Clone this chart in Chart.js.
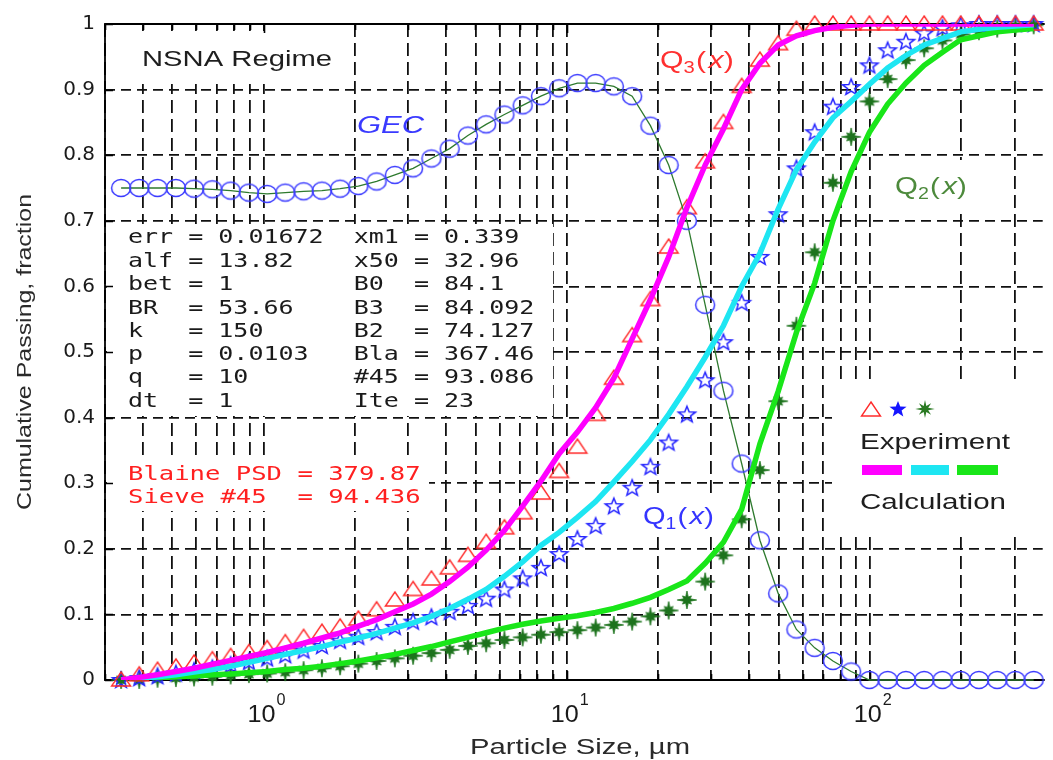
<!DOCTYPE html>
<html>
<head>
<meta charset="utf-8">
<script src="https://cdn.jsdelivr.net/npm/chart.js@4.4.1/dist/chart.umd.min.js"></script>
<style>
html,body{margin:0;padding:0;background:#fff;}
#wrap{width:1053px;height:760px;position:relative;overflow:hidden;}
</style>
</head>
<body>
<div id="wrap"><canvas id="c" width="1053" height="760"></canvas></div>
<script>
// ---------------- data ----------------
const particleSize = [0.339,0.389,0.447,0.514,0.590,0.678,0.779,0.895,1.028,1.180,
  1.356,1.558,1.789,2.055,2.361,2.712,3.115,3.579,4.111,4.722,
  5.424,6.231,7.157,8.221,9.444,10.85,12.46,14.31,16.44,18.89,
  21.70,24.92,28.63,32.89,37.77,43.39,49.85,57.26,65.77,75.55,
  86.78,99.69,114.5,131.5,151.1,173.6,199.4,229.0,263.1,302.2,347.1];

const gecValues = [0.750,0.750,0.750,0.750,0.749,0.748,0.746,0.743,0.741,0.743,
  0.745,0.746,0.749,0.753,0.760,0.770,0.780,0.795,0.810,0.830,
  0.847,0.862,0.876,0.890,0.902,0.910,0.910,0.905,0.890,0.845,
  0.785,0.700,0.572,0.441,0.330,0.213,0.132,0.077,0.049,0.029,
  0.013,0,0,0,0,0,0,0,0,0,0];

const q3Calc = [0.000,0.004,0.008,0.013,0.018,0.024,0.030,0.036,0.042,0.049,
  0.056,0.064,0.072,0.082,0.092,0.104,0.116,0.131,0.150,0.172,
  0.198,0.228,0.265,0.303,0.345,0.378,0.415,0.460,0.520,0.580,
  0.645,0.720,0.785,0.840,0.900,0.940,0.968,0.982,0.990,0.995,
  0.998,1,1,1,1,1,1,1,1,1,1];

const q3Exp = [0.000,0.008,0.015,0.020,0.026,0.031,0.036,0.042,0.048,0.057,
  0.065,0.073,0.081,0.093,0.107,0.122,0.138,0.154,0.171,0.190,
  0.210,0.232,0.255,0.285,0.318,0.355,0.405,0.460,0.525,0.580,
  0.660,0.720,0.790,0.850,0.905,0.945,0.970,0.992,1,1,
  1,1,1,1,1,1,1,1,1,1,1];

const q1Calc = [0,0.002,0.005,0.008,0.012,0.016,0.021,0.027,0.033,0.039,
  0.045,0.051,0.058,0.064,0.071,0.079,0.087,0.097,0.109,0.123,
  0.138,0.158,0.180,0.205,0.225,0.248,0.272,0.302,0.333,0.366,
  0.405,0.447,0.492,0.540,0.600,0.650,0.718,0.778,0.820,0.857,
  0.882,0.908,0.933,0.952,0.968,0.978,0.988,0.992,0.995,0.997,0.999];

const q1Exp = [0,0.003,0.006,0.010,0.014,0.018,0.023,0.028,0.033,0.038,
  0.045,0.052,0.060,0.066,0.073,0.081,0.089,0.096,0.104,0.113,
  0.124,0.138,0.155,0.171,0.192,0.215,0.235,0.265,0.293,0.325,
  0.362,0.405,0.457,0.515,0.575,0.645,0.710,0.780,0.835,0.874,
  0.904,0.937,0.960,0.973,0.986,0.994,0.998,1,1,1,1];

const q2Calc = [0,0.002,0.003,0.005,0.006,0.008,0.009,0.011,0.013,0.016,
  0.018,0.021,0.025,0.029,0.034,0.039,0.045,0.051,0.058,0.065,
  0.072,0.079,0.085,0.090,0.094,0.098,0.103,0.109,0.117,0.126,
  0.138,0.151,0.178,0.210,0.260,0.360,0.440,0.530,0.605,0.700,
  0.775,0.835,0.878,0.910,0.937,0.957,0.976,0.982,0.988,0.991,0.993];

const q2Exp = [0,0,0.002,0.003,0.004,0.005,0.007,0.009,0.010,0.012,
  0.015,0.018,0.021,0.025,0.029,0.033,0.037,0.041,0.046,0.052,
  0.056,0.061,0.065,0.069,0.073,0.076,0.080,0.084,0.089,0.097,
  0.106,0.122,0.150,0.190,0.245,0.320,0.425,0.540,0.652,0.758,
  0.828,0.882,0.916,0.945,0.963,0.975,0.984,0.989,0.993,0.996,0.998];

const xDecadeExponents = [0, 1, 2];
const yTickStep = 0.1;

const paramRows = [
  "err = 0.01672  xm1 = 0.339",
  "alf = 13.82    x50 = 32.96",
  "bet = 1        B0  = 84.1",
  "BR  = 53.66    B3  = 84.092",
  "k   = 150      B2  = 74.127",
  "p   = 0.0103   Bla = 367.46",
  "q   = 10       #45 = 93.086",
  "dt  = 1        Ite = 23"
];
const sieveRows = [
  "Blaine PSD = 379.87",
  "Sieve #45  = 94.436"
];
const regimeLabel = "NSNA Regime";
const xTitle = "Particle Size, \u00b5m";
const yTitle = "Cumulative Passing, fraction";

// ---------------- marker images ----------------
function mkCanvas(w,h,fn){const c=document.createElement('canvas');c.width=w;c.height=h;const g=c.getContext('2d');fn(g,w/2,h/2);return c;}
function starPath(g,cx,cy,rx,ry,ir){g.beginPath();for(let k=0;k<10;k++){const a=-Math.PI/2+k*Math.PI/5;const r=(k%2)?ir:1;const px=cx+Math.cos(a)*rx*r, py=cy+Math.sin(a)*ry*r;if(k===0)g.moveTo(px,py);else g.lineTo(px,py);}g.closePath();}
function burstPath(g,cx,cy,longR,shortR,inR){g.beginPath();for(let k=0;k<16;k++){const a=-Math.PI/2+k*Math.PI/8;let r;if(k%2)r=inR;else r=(k%4===0)?longR:shortR;const px=cx+Math.cos(a)*r*1.08, py=cy+Math.sin(a)*r;if(k===0)g.moveTo(px,py);else g.lineTo(px,py);}g.closePath();}
const circleImg = mkCanvas(24,22,(g,cx,cy)=>{g.strokeStyle='#3b3bff';g.lineWidth=1.5;g.beginPath();g.ellipse(cx,cy,9.5,8.5,0,0,Math.PI*2);g.stroke();});
const triImg = mkCanvas(24,22,(g,cx,cy)=>{g.strokeStyle='#ff2b2b';g.lineWidth=1.4;g.beginPath();g.moveTo(cx,cy-8);g.lineTo(cx+9.5,cy+6);g.lineTo(cx-9.5,cy+6);g.closePath();g.stroke();});
const starImg = mkCanvas(24,22,(g,cx,cy)=>{starPath(g,cx,cy+0.5,9,8.5,0.42);g.strokeStyle='#2323ff';g.lineWidth=1.5;g.stroke();});
const starFillImg = mkCanvas(24,22,(g,cx,cy)=>{starPath(g,cx,cy+0.5,9,8.5,0.42);g.fillStyle='#1515ff';g.fill();});
const plusImg = mkCanvas(24,22,(g,cx,cy)=>{burstPath(g,cx,cy,9,5.8,3.2);g.fillStyle='#1d731d';g.fill();g.strokeStyle='#1d731d';g.lineWidth=0.8;g.stroke();});
const burstLegendImg = mkCanvas(24,22,(g,cx,cy)=>{burstPath(g,cx,cy,9,8,3.2);g.fillStyle='#2a7a22';g.fill();});

const pts = ys => particleSize.map((x,i)=>({x:x, y:ys[i]}));

// ---------------- text helpers ----------------
function sText(ctx,str,x,y,font,color,width,align){
  ctx.save();ctx.font=font;ctx.fillStyle=color;ctx.textBaseline='alphabetic';ctx.textAlign='left';
  const w=ctx.measureText(str).width;const sx=width?width/w:1;const tw=w*sx;
  let x0=x; if(align==='center')x0=x-tw/2; else if(align==='right')x0=x-tw;
  ctx.translate(x0,y);ctx.scale(sx,1);ctx.fillText(str,0,0);ctx.restore();
}
function qLabel(ctx,x,y,sub,color,targetW){
  const F="'Liberation Sans', Arial, sans-serif";
  ctx.save();ctx.fillStyle=color;ctx.textBaseline='alphabetic';
  const parts=[['Q','24px '+F,0,0],[sub,'16px '+F,1,5],['(','24px '+F,2,0],['x','italic 24px '+F,0,0],[')','24px '+F,1,0]];
  let nat=0; parts.forEach(p=>{ctx.font=p[1];nat+=ctx.measureText(p[0]).width+p[2];});
  const sx=targetW/nat;
  ctx.translate(x,y);ctx.scale(sx,1);
  let cx=0; parts.forEach(p=>{ctx.font=p[1];ctx.fillText(p[0],cx,p[3]);cx+=ctx.measureText(p[0]).width+p[2];});
  ctx.restore();
}

const decoPlugin = {
  id:'deco',
  beforeDraw(chart){const c=chart.ctx;c.save();c.fillStyle='#fff';c.fillRect(0,0,chart.width,chart.height);c.restore();},
  beforeDatasetsDraw(chart){
    const ctx=chart.ctx, a=chart.chartArea, xs=chart.scales.x, ys=chart.scales.y;
    const SANS="'Liberation Sans', Arial, sans-serif";
    const MONO="'DejaVu Sans Mono', 'Liberation Mono', monospace";
    ctx.save();
    // white boxes behind annotations
    ctx.fillStyle='#fff';
    ctx.fillRect(a.left+2, 31, 246, 53);        // NSNA Regime
    ctx.fillRect(a.left+2, 224, 446, 192);      // parameter block
    ctx.fillRect(a.left+2, 458, 322, 53);       // Blaine block
    ctx.fillRect(832, 384, 240, 153);           // legend
    ctx.fillRect(637, 493, 82, 44);             // Q1 label
    ctx.fillRect(884, 160, 92, 48);             // Q2 label
    // frame
    ctx.strokeStyle='#000';ctx.lineWidth=1.8;ctx.setLineDash([]);
    ctx.beginPath();
    ctx.moveTo(a.right+2,a.top);ctx.lineTo(a.left,a.top);ctx.lineTo(a.left,a.bottom);ctx.lineTo(a.right+2,a.bottom);
    ctx.stroke();
    // inner ticks
    ctx.lineWidth=1.6;ctx.beginPath();
    xs.ticks.forEach(t=>{const px=Math.round(xs.getPixelForValue(t.value))+0.5;const m=Math.abs(Math.log10(t.value)-Math.round(Math.log10(t.value)))<1e-6;const L=m?9:6;
      ctx.moveTo(px,a.bottom);ctx.lineTo(px,a.bottom-L);ctx.moveTo(px,a.top);ctx.lineTo(px,a.top+L);});
    ys.ticks.forEach(t=>{const py=Math.round(ys.getPixelForValue(t.value))+0.5;ctx.moveTo(a.left,py);ctx.lineTo(a.left+8,py);});
    ctx.stroke();
    // x tick labels 10^n
    xDecadeExponents.forEach(e=>{
      const px=xs.getPixelForValue(Math.pow(10,e));
      sText(ctx,'10',px-2,722,'24px '+SANS,'#1a1a1a',28,'center');
      sText(ctx,String(e),px+13,705,'16px '+SANS,'#1a1a1a',9,'left');
    });
    // axis titles
    sText(ctx,xTitle,580,754,'22px '+SANS,'#2a2a2a',220,'center');
    ctx.save();ctx.translate(31,352);ctx.rotate(-Math.PI/2);
    sText(ctx,yTitle,0,0,'21px '+SANS,'#2a2a2a',316,'center');
    ctx.restore();
    // regime label
    sText(ctx,regimeLabel,142,66,'22px '+SANS,'#1e1e1e',190,'left');
    // GEC label
    sText(ctx,'GEC',357,133,'italic 23px '+SANS,'#3a3aff',67,'left');
    // parameter block
    const base=[243,267,290,314,337,360,383,407];
    paramRows.forEach((r,i)=>sText(ctx,r,128,base[i],'20px '+MONO,'#1a1a1a',r.length*15.05,'left'));
    sieveRows.forEach((r,i)=>sText(ctx,r,128,[480,503][i],'20px '+MONO,'#ff2020',r.length*15.4,'left'));
    // Q labels
    qLabel(ctx,660,68,'3','#ff3030',75);
    qLabel(ctx,643,524,'1','#3535ff',72);
    qLabel(ctx,895,194,'2','#4d8a3c',73);
    // legend
    ctx.drawImage(triImg,871-12,410-11);
    ctx.drawImage(starFillImg,898-12,409-11);
    ctx.drawImage(burstLegendImg,925-12,409-11);
    sText(ctx,'Experiment',860,449,'22px '+SANS,'#1e1e1e',150,'left');
    ctx.fillStyle='#ff00ff';ctx.fillRect(862,465,40,10);
    ctx.fillStyle='#1ee6f2';ctx.fillRect(911,465,38,10);
    ctx.fillStyle='#19e619';ctx.fillRect(957,465,41,10);
    sText(ctx,'Calculation',860,509,'22px '+SANS,'#1e1e1e',146,'left');
    ctx.restore();
  }
};

new Chart(document.getElementById('c'), {
  type:'line',
  data:{datasets:[
    {label:'Q3 calculation', data:pts(q3Calc), borderColor:'#ff00ff', borderWidth:5.5, pointRadius:0, order:0},
    {label:'Q1 calculation', data:pts(q1Calc), borderColor:'#1ee6f2', borderWidth:5.5, pointRadius:0, order:1},
    {label:'Q2 calculation', data:pts(q2Calc), borderColor:'#19e619', borderWidth:5.5, pointRadius:0, order:2},
    {label:'GEC', data:pts(gecValues), borderColor:'#2e7a2e', borderWidth:1.3, pointStyle:circleImg, pointRadius:9, order:3, clip:false},
    {label:'Q3 experiment', data:pts(q3Exp), showLine:false, pointStyle:triImg, pointRadius:9, order:4, clip:false},
    {label:'Q1 experiment', data:pts(q1Exp), showLine:false, pointStyle:starImg, pointRadius:9, order:5, clip:false},
    {label:'Q2 experiment', data:pts(q2Exp), showLine:false, pointStyle:plusImg, pointRadius:9, order:6, clip:false}
  ]},
  options:{
    responsive:false, devicePixelRatio:1, animation:false, events:[],
    layout:{padding:{top:24,left:0,right:0,bottom:0}},
    elements:{line:{tension:0, fill:false}},
    plugins:{legend:{display:false}, tooltip:{enabled:false}},
    scales:{
      x:{type:'logarithmic', min:0.3, max:371.7,
         grid:{color:'#111', lineWidth:1.8, drawTicks:false},
         border:{display:false, dash:[13,6]},
         ticks:{display:false},
         afterBuildTicks:(s)=>{s.ticks=s.ticks.filter(t=>{const m=t.value/Math.pow(10,Math.floor(Math.log10(t.value)+1e-9));return Math.abs(m-Math.round(m))<1e-6;});},
         afterFit:(s)=>{s.height=80;}},
      y:{type:'linear', min:0, max:1,
         grid:{color:'#111', lineWidth:1.8, drawTicks:false},
         border:{display:false, dash:[10,6]},
         ticks:{stepSize:yTickStep, autoSkip:false, padding:10, color:'#1a1a1a',
                font:{family:"'DejaVu Sans', sans-serif", size:20},
                callback:(v)=>String(+(+v).toFixed(1))},
         afterFit:(s)=>{s.width=105;}}
    }
  },
  plugins:[decoPlugin]
});
</script>
</body>
</html>
